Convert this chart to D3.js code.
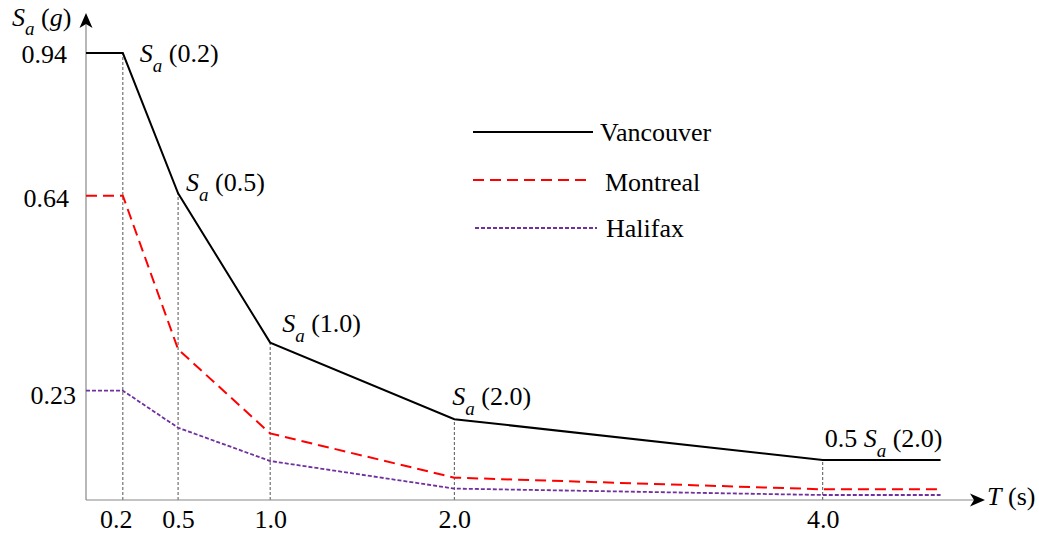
<!DOCTYPE html>
<html>
<head>
<meta charset="utf-8">
<script src="https://cdn.jsdelivr.net/npm/d3@7"></script>
<style>
  body { margin: 0; background: #fff; }
  text { font-family: "Liberation Serif", "Times New Roman", serif; fill: #000; }
</style>
</head>
<body>
<svg id="chart" width="1039" height="536"></svg>
<script>
// Design spectrum values Sa(T) in g for three cities
const periods   = [0, 0.2, 0.5, 1.0, 2.0, 4.0, 4.64];
const vancouver = [0.94, 0.94, 0.645, 0.331, 0.170, 0.084, 0.084];
const montreal  = [0.64, 0.64, 0.317, 0.140, 0.047, 0.0225, 0.0225];
const halifax   = [0.23, 0.23, 0.152, 0.082, 0.024, 0.0105, 0.0105];
const cityNames = ["Vancouver", "Montreal", "Halifax"];
const xTicks = [0.2, 0.5, 1.0, 2.0, 4.0];
const yTicks = [0.23, 0.64, 0.94];
// Point labels on the Vancouver curve
const pointLabelT    = [0.2, 0.5, 1.0, 2.0, 4.0];
const pointLabelPre  = ["", "", "", "", "0.5 "];
const pointLabelArg  = ["(0.2)", "(0.5)", "(1.0)", "(2.0)", "(2.0)"];

const svg = d3.select("#chart");
const FS = 26, SUB = 19;

const x = d3.scaleLinear().domain([0, 4]).range([86, 822.7]);
const y = d3.scaleLinear().domain([0, 1]).range([500, 24.5]);

const styles = {
  Vancouver: { color: "#000", width: 2, dash: null },
  Montreal:  { color: "#ff0000", width: 2, dash: "11,6" },
  Halifax:   { color: "#7030a0", width: 1.8, dash: "4,2" }
};
const seriesData = { Vancouver: vancouver, Montreal: montreal, Halifax: halifax };

// Dotted guides from the axis up to the Vancouver curve
const vAt = t => vancouver[periods.indexOf(t)];
svg.append("g").selectAll("line").data(xTicks).join("line")
  .attr("x1", d => x(d)).attr("x2", d => x(d))
  .attr("y1", y(0)).attr("y2", d => y(vAt(d)))
  .attr("stroke", "#555").attr("stroke-width", 1).attr("stroke-dasharray", "3,2");

// Axis lines with arrowheads
svg.append("line").attr("x1", x(0)).attr("x2", x(0)).attr("y1", y(0)).attr("y2", 20)
  .attr("stroke", "#888").attr("stroke-width", 1.2);
svg.append("line").attr("x1", x(0)).attr("x2", 978).attr("y1", y(0)).attr("y2", y(0))
  .attr("stroke", "#888").attr("stroke-width", 1.2);
svg.append("path").attr("d", `M${x(0)},13 L${x(0)+6.5},28 L${x(0)},24 L${x(0)-6.5},28 Z`).attr("fill", "#000");
svg.append("path").attr("d", `M985,${y(0)} L970,${y(0)-6.5} L974,${y(0)} L970,${y(0)+6.5} Z`).attr("fill", "#000");

// Tick labels (small hand nudges keep them clear of the curves)
const xNudge = { 0.2: -7 };
const xAxis = d3.axisBottom(x).tickValues(xTicks).tickFormat(d3.format(".1f")).tickSize(0).tickPadding(10);
const gx = svg.append("g").attr("transform", `translate(0,${y(0)})`).call(xAxis);
gx.select(".domain").remove();
gx.selectAll("text").attr("font-size", FS).attr("font-family", "Liberation Serif")
  .attr("dx", d => xNudge[d] || 0);

const yNudge = { 0.23: [9, 5], 0.64: [2, 2], 0.94: [0, 1] };
const yAxis = d3.axisLeft(y).tickValues(yTicks).tickFormat(d3.format(".2f")).tickSize(0).tickPadding(19);
const gy = svg.append("g").attr("transform", `translate(${x(0)},0)`).call(yAxis);
gy.select(".domain").remove();
gy.selectAll("text").attr("font-size", FS).attr("font-family", "Liberation Serif")
  .attr("dx", d => yNudge[d][0]).attr("y", d => yNudge[d][1]);

// Curves
const line = d3.line().x((d, i) => x(periods[i])).y(d => y(d));
cityNames.slice().reverse().forEach(name => {
  const s = styles[name];
  svg.append("path").datum(seriesData[name]).attr("d", line)
    .attr("fill", "none").attr("stroke", s.color).attr("stroke-width", s.width)
    .attr("stroke-dasharray", s.dash).attr("stroke-linejoin", "miter");
});

// Sa(T) labels: italic S with subscript a, then the argument
function saText(g, px, py, pre, arg, argItalic, subDy) {
  const sd = subDy || 10;
  const t = g.append("text").attr("x", px).attr("y", py).attr("font-size", FS);
  if (pre) t.append("tspan").text(pre);
  t.append("tspan").attr("font-style", "italic").text("S");
  t.append("tspan").attr("font-style", "italic").attr("font-size", SUB).attr("dy", sd).text("a");
  if (argItalic) {
    t.append("tspan").attr("dy", -sd).text("\u00a0(");
    t.append("tspan").attr("font-style", "italic").text(argItalic);
    t.append("tspan").text(")");
  } else {
    t.append("tspan").attr("dy", -sd).text("\u00a0" + arg);
  }
  return t;
}
const labelOffset = [[17, 9], [8, -2], [12, -11], [-2, -14], [2, -13]];
const lg = svg.append("g");
pointLabelT.forEach((t, i) => {
  saText(lg, x(t) + labelOffset[i][0], y(vAt(t)) + labelOffset[i][1], pointLabelPre[i], pointLabelArg[i]);
});

// Axis titles
saText(svg, 12, 26, "", "", "g", 9);
const tt = svg.append("text").attr("x", 987).attr("y", 505).attr("font-size", FS);
tt.append("tspan").attr("font-style", "italic").text("T");
tt.append("tspan").text("\u00a0(s)");

// Legend
const legendY = [132, 180, 228];
const legendText = [140.7, 190.7, 236.7];
const legendX1 = [473, 473, 475], legendX2 = [593, 590, 597], legendTx = [600, 605, 606];
cityNames.forEach((name, i) => {
  const s = styles[name];
  svg.append("line").attr("x1", legendX1[i]).attr("x2", legendX2[i]).attr("y1", legendY[i]).attr("y2", legendY[i])
    .attr("stroke", s.color).attr("stroke-width", s.width).attr("stroke-dasharray", s.dash);
  svg.append("text").attr("x", legendTx[i]).attr("y", legendText[i]).attr("font-size", FS).text(name);
});
</script>
</body>
</html>
